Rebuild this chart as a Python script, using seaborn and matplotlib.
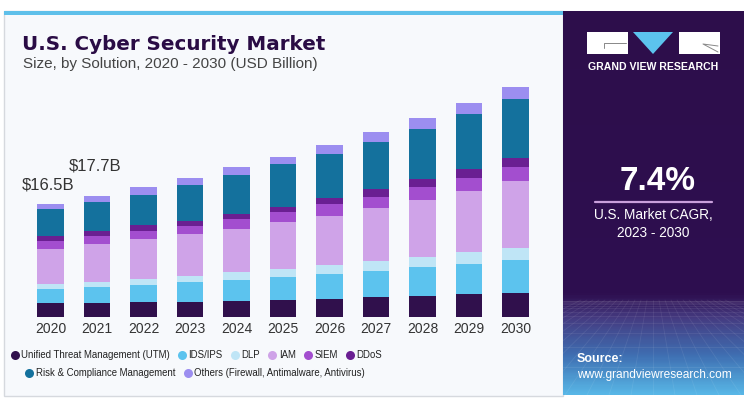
import numpy as np
import pandas as pd
import seaborn as sns
import matplotlib.pyplot as plt
from matplotlib.patches import Rectangle, Polygon
from matplotlib.lines import Line2D
from matplotlib.colors import LinearSegmentedColormap

sns.set_theme(style="white")
plt.rcParams['font.family'] = ['Liberation Sans', 'DejaVu Sans']

# Data (USD Billion)
years = ['2020', '2021', '2022', '2023', '2024', '2025', '2026', '2027', '2028', '2029', '2030']
utm = [2.05, 2.13, 2.19, 2.23, 2.34, 2.53, 2.72, 2.92, 3.11, 3.36, 3.60]
ids_ips = [2.05, 2.25, 2.53, 2.92, 3.15, 3.40, 3.60, 3.84, 4.19, 4.47, 4.78]
dlp = [0.78, 0.82, 0.88, 0.88, 1.12, 1.17, 1.31, 1.46, 1.55, 1.66, 1.70]
iam = [5.16, 5.46, 5.80, 6.09, 6.32, 6.77, 7.20, 7.74, 8.28, 8.95, 9.75]
siem = [1.17, 1.21, 1.26, 1.26, 1.37, 1.46, 1.66, 1.65, 1.85, 1.94, 2.10]
ddos = [0.68, 0.69, 0.79, 0.69, 0.82, 0.82, 0.92, 1.08, 1.17, 1.23, 1.27]
risk = [3.90, 4.28, 4.47, 5.26, 5.65, 6.19, 6.42, 6.86, 7.39, 8.03, 8.67]
others = [0.78, 0.88, 1.08, 1.07, 1.12, 1.11, 1.31, 1.46, 1.52, 1.61, 1.75]

segments = ['Unified Threat Management (UTM)', 'IDS/IPS', 'DLP', 'IAM', 'SIEM', 'DDoS',
            'Risk & Compliance Management', 'Others (Firewall, Antimalware, Antivirus)']
colors = ['#30104c', '#5cc3ee', '#bfe5f6', '#cfa3e8', '#a34ecf', '#6a1f92', '#14719d', '#9c8ef0']
labeled_years = {0: '$16.5B', 1: '$17.7B'}

df = pd.DataFrame(dict(zip(segments, [utm, ids_ips, dlp, iam, siem, ddos, risk, others])), index=years)
cum = df.cumsum(axis=1)

W, H = 754, 407
fig = plt.figure(figsize=(W / 100, H / 100), dpi=100)
fig.patch.set_facecolor('white')

# background / decoration layer in pixel coords
bg = fig.add_axes([0, 0, 1, 1], zorder=0)
bg.set_xlim(0, W)
bg.set_ylim(H, 0)
bg.axis('off')

bg.add_patch(Rectangle((4, 11), 559, 385, facecolor='#f7f9fc', edgecolor='#d6d9de', lw=1))
bg.add_patch(Rectangle((4, 11), 559, 4, facecolor='#5fc0ea', edgecolor='none'))

# right panel gradient
grad = LinearSegmentedColormap.from_list('panel', [
    (0.0, '#2d0e4b'), (0.74, '#2e0f50'), (0.80, '#453a80'),
    (0.90, '#3f6fb2'), (1.0, '#58b6e6')])
g = np.linspace(0, 1, 300).reshape(-1, 1)
bg.imshow(g, cmap=grad, aspect='auto', extent=(563, 744, 395, 11), zorder=1)
# faint perspective grid in the lower part
for k in range(-12, 13):
    bg.plot([653 + k * 6, 653 + k * 22], [300, 395], color='white', alpha=0.08, lw=0.6, zorder=2)
for yy in np.geomspace(1, 95, 14):
    bg.plot([563, 744], [300 + yy, 300 + yy], color='white', alpha=0.08, lw=0.6, zorder=2)

# logo
bg.add_patch(Rectangle((587, 32), 41, 22, facecolor='white', edgecolor='none', zorder=3))
bg.plot([604, 604, 626], [48, 43, 43], color='#888888', lw=0.7, zorder=4)
bg.add_patch(Polygon([(633, 32), (673, 32), (653, 54)], closed=True, facecolor='#5cc3ee', edgecolor='none', zorder=3))
bg.add_patch(Rectangle((679, 32), 41, 22, facecolor='white', edgecolor='none', zorder=3))
bg.plot([718, 703, 718], [52, 44, 46], color='#888888', lw=0.7, zorder=4)
bg.text(653.5, 67, 'GRAND VIEW RESEARCH', color='white', fontsize=7.6, fontweight='bold',
        ha='center', va='center', zorder=4)

bg.text(658, 181, '7.4%', color='white', fontsize=24, fontweight='bold', ha='center', va='center', zorder=4)
bg.plot([595, 712], [202, 202], color='#c9a0dc', lw=1.6, zorder=4)
bg.text(653.5, 215, 'U.S. Market CAGR,', color='white', fontsize=9.8, ha='center', va='center', zorder=4)
bg.text(653.5, 233, '2023 - 2030', color='white', fontsize=9.8, ha='center', va='center', zorder=4)
bg.text(577, 359, 'Source:', color='white', fontsize=9, fontweight='bold', ha='left', va='center', zorder=4)
bg.text(577, 375, 'www.grandviewresearch.com', color='white', fontsize=8.6, ha='left', va='center', zorder=4)

# titles
bg.text(22, 44, 'U.S. Cyber Security Market', color='#2a0c45', fontsize=14.3, fontweight='bold',
        family='DejaVu Sans', ha='left', va='center', zorder=4)
bg.text(23, 64, 'Size, by Solution, 2020 - 2030 (USD Billion)', color='#444444', fontsize=11,
        ha='left', va='center', zorder=4)

# chart
ax = fig.add_axes([27.25 / W, (H - 317.3) / H, 511.5 / W, 246.6 / H], zorder=1)
ax.patch.set_alpha(0)
for seg, col in reversed(list(zip(segments, colors))):
    sns.barplot(x=years, y=cum[seg].values, color=col, width=0.58, ax=ax, saturation=1,
                edgecolor='none', linewidth=0)
ax.set_xlim(-0.5, 10.5)
ax.set_ylim(0, 36)
ax.set_yticks([])
ax.set_xlabel('')
ax.set_ylabel('')
for s in ax.spines.values():
    s.set_visible(False)
ax.tick_params(axis='x', length=0, pad=3.5, labelsize=10, labelcolor='#333333')

totals = df.sum(axis=1).values
for i, lab in labeled_years.items():
    off = 2.7 if i == 0 else 4.4
    ax.text(i - 0.05, totals[i] + off, lab, fontsize=12, color='#333333', ha='center', va='center')

# legend (two rows)
handles = [Line2D([], [], marker='o', ls='none', markersize=6.5, markerfacecolor=c, markeredgecolor='none')
           for c in colors]
kw = dict(frameon=False, fontsize=6.9, handletextpad=0.25, columnspacing=0.9, handlelength=0.8,
          labelcolor='#222222', borderpad=0.1)
leg1 = fig.legend(handles[:6], segments[:6], ncol=6, loc='center', bbox_to_anchor=(196.5 / W, 1 - 355 / H), **kw)
leg2 = fig.legend(handles[6:], segments[6:], ncol=2, loc='center', bbox_to_anchor=(195 / W, 1 - 373 / H), **kw)

fig.savefig('out.png', dpi=100)
